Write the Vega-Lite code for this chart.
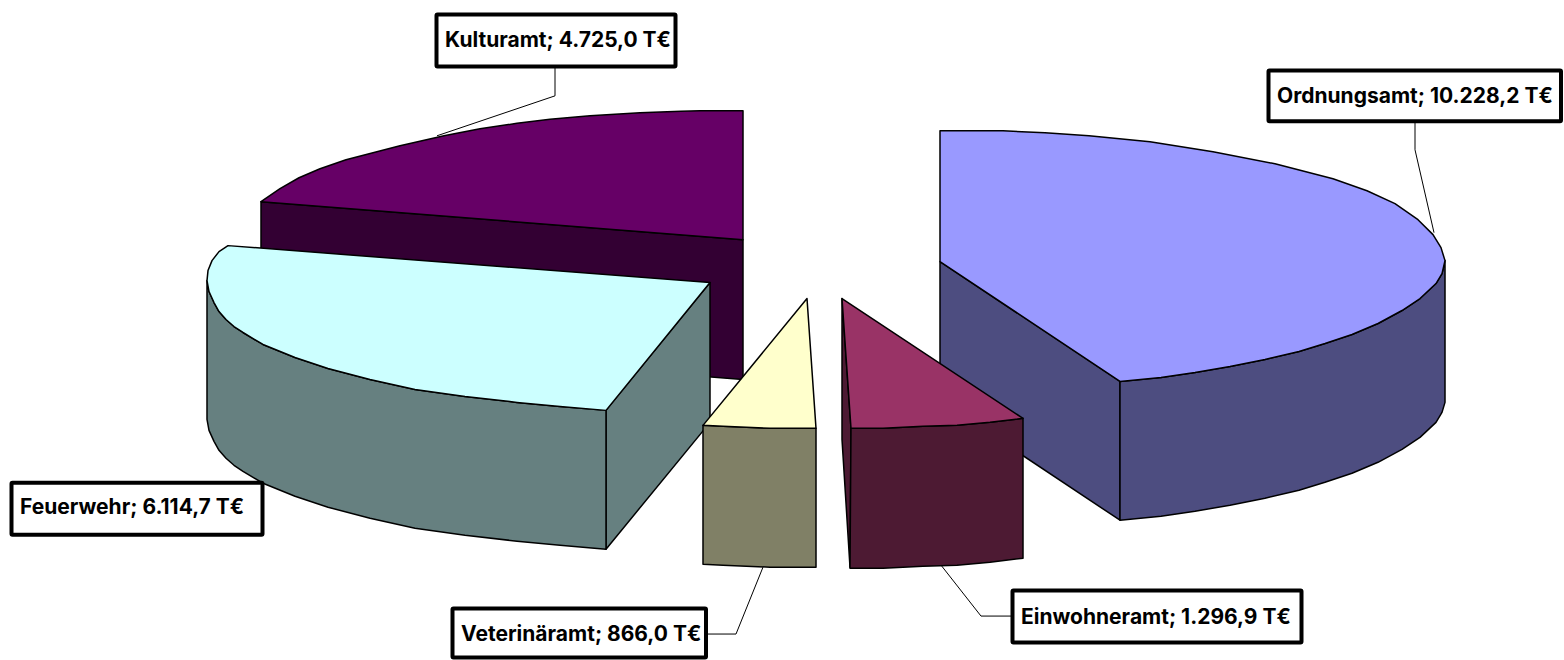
{
"$schema":"https://vega.github.io/schema/vega-lite/v6.json",
"width":1564,"height":660,"padding":0,"autosize":{"type":"fit","contains":"padding"},"background":"white",
"view":{"stroke":null},
"datasets":{
"faces":[
{"f":"a1","n":1,"x":261,"y":202},{"f":"a1","n":2,"x":743,"y":240},{"f":"a1","n":3,"x":743,"y":380},{"f":"a1","n":4,"x":261,"y":342},
{"f":"a2","n":1,"x":743,"y":111},{"f":"a2","n":2,"x":700,"y":111},{"f":"a2","n":3,"x":681,"y":111.5},{"f":"a2","n":4,"x":640,"y":113},{"f":"a2","n":5,"x":590,"y":116},{"f":"a2","n":6,"x":550,"y":119.5},{"f":"a2","n":7,"x":517,"y":123.5},{"f":"a2","n":8,"x":480,"y":129},{"f":"a2","n":9,"x":444,"y":136},{"f":"a2","n":10,"x":400,"y":146},{"f":"a2","n":11,"x":346,"y":160},{"f":"a2","n":12,"x":320,"y":169},{"f":"a2","n":13,"x":299,"y":178},{"f":"a2","n":14,"x":280,"y":189},{"f":"a2","n":15,"x":261,"y":202},{"f":"a2","n":16,"x":743,"y":240},
{"f":"b1","n":1,"x":606,"y":411},{"f":"b1","n":2,"x":710,"y":283},{"f":"b1","n":3,"x":710,"y":423},{"f":"b1","n":4,"x":606,"y":550},
{"f":"b2","n":1,"x":207,"y":281},{"f":"b2","n":2,"x":209,"y":292},{"f":"b2","n":3,"x":214,"y":303},{"f":"b2","n":3.5,"x":219,"y":312},{"f":"b2","n":4,"x":226,"y":320},{"f":"b2","n":4.5,"x":234,"y":327},{"f":"b2","n":5,"x":243,"y":333},{"f":"b2","n":6,"x":263,"y":345},{"f":"b2","n":7,"x":295,"y":358},{"f":"b2","n":8,"x":328,"y":369},{"f":"b2","n":9,"x":370,"y":380},{"f":"b2","n":10,"x":415,"y":390},{"f":"b2","n":11,"x":465,"y":397},{"f":"b2","n":12,"x":517,"y":403},{"f":"b2","n":13,"x":560,"y":407},{"f":"b2","n":14,"x":606,"y":411},{"f":"b2","n":15,"x":606,"y":550},{"f":"b2","n":16,"x":560,"y":546},{"f":"b2","n":17,"x":517,"y":542},{"f":"b2","n":18,"x":465,"y":536},{"f":"b2","n":19,"x":415,"y":529},{"f":"b2","n":20,"x":370,"y":519},{"f":"b2","n":21,"x":328,"y":508},{"f":"b2","n":22,"x":295,"y":497},{"f":"b2","n":23,"x":263,"y":484},{"f":"b2","n":24,"x":243,"y":472},{"f":"b2","n":24.5,"x":234,"y":466},{"f":"b2","n":25,"x":226,"y":459},{"f":"b2","n":25.5,"x":219,"y":451},{"f":"b2","n":26,"x":214,"y":442},{"f":"b2","n":27,"x":209,"y":431},{"f":"b2","n":28,"x":207,"y":420},
{"f":"b3","n":1,"x":710,"y":283},{"f":"b3","n":2,"x":228,"y":246},{"f":"b3","n":3,"x":219,"y":252},{"f":"b3","n":4,"x":212,"y":261},{"f":"b3","n":5,"x":208,"y":271},{"f":"b3","n":6,"x":207,"y":281},{"f":"b3","n":7,"x":209,"y":292},{"f":"b3","n":8,"x":214,"y":303},{"f":"b3","n":8.5,"x":219,"y":312},{"f":"b3","n":9,"x":226,"y":320},{"f":"b3","n":9.5,"x":234,"y":327},{"f":"b3","n":10,"x":243,"y":333},{"f":"b3","n":11,"x":263,"y":345},{"f":"b3","n":12,"x":295,"y":358},{"f":"b3","n":13,"x":328,"y":369},{"f":"b3","n":14,"x":370,"y":380},{"f":"b3","n":15,"x":415,"y":390},{"f":"b3","n":16,"x":465,"y":397},{"f":"b3","n":17,"x":517,"y":403},{"f":"b3","n":18,"x":560,"y":407},{"f":"b3","n":19,"x":606,"y":411},
{"f":"c1","n":1,"x":703,"y":426},{"f":"c1","n":2,"x":723,"y":427},{"f":"c1","n":3,"x":770,"y":429},{"f":"c1","n":4,"x":816,"y":429},{"f":"c1","n":5,"x":816,"y":568},{"f":"c1","n":6,"x":770,"y":568},{"f":"c1","n":7,"x":723,"y":566},{"f":"c1","n":8,"x":703,"y":565},
{"f":"c2","n":1,"x":807,"y":299},{"f":"c2","n":2,"x":703,"y":426},{"f":"c2","n":3,"x":723,"y":427},{"f":"c2","n":4,"x":770,"y":429},{"f":"c2","n":5,"x":816,"y":429},
{"f":"d1","n":1,"x":940,"y":262},{"f":"d1","n":2,"x":1120,"y":382},{"f":"d1","n":3,"x":1120,"y":521},{"f":"d1","n":4,"x":940,"y":401},
{"f":"d2","n":1,"x":1120,"y":382},{"f":"d2","n":2,"x":1161,"y":378},{"f":"d2","n":3,"x":1195,"y":373},{"f":"d2","n":4,"x":1230,"y":367},{"f":"d2","n":5,"x":1265,"y":360},{"f":"d2","n":6,"x":1299,"y":352},{"f":"d2","n":7,"x":1325,"y":344},{"f":"d2","n":8,"x":1352,"y":335},{"f":"d2","n":9,"x":1378,"y":324},{"f":"d2","n":10,"x":1402,"y":311},{"f":"d2","n":11,"x":1420,"y":299},{"f":"d2","n":12,"x":1436,"y":284},{"f":"d2","n":13,"x":1442,"y":274},{"f":"d2","n":14,"x":1445,"y":261},{"f":"d2","n":15,"x":1445,"y":403},{"f":"d2","n":16,"x":1442,"y":413},{"f":"d2","n":17,"x":1436,"y":423},{"f":"d2","n":18,"x":1420,"y":438},{"f":"d2","n":19,"x":1402,"y":450},{"f":"d2","n":20,"x":1378,"y":463},{"f":"d2","n":21,"x":1352,"y":474},{"f":"d2","n":22,"x":1325,"y":483},{"f":"d2","n":23,"x":1299,"y":491},{"f":"d2","n":24,"x":1265,"y":499},{"f":"d2","n":25,"x":1230,"y":506},{"f":"d2","n":26,"x":1195,"y":512},{"f":"d2","n":27,"x":1161,"y":517},{"f":"d2","n":28,"x":1120,"y":521},
{"f":"d3","n":1,"x":940,"y":131},{"f":"d3","n":2,"x":970,"y":131},{"f":"d3","n":3,"x":1003,"y":131},{"f":"d3","n":4,"x":1045,"y":133},{"f":"d3","n":5,"x":1089,"y":136},{"f":"d3","n":6,"x":1150,"y":142},{"f":"d3","n":7,"x":1213,"y":152},{"f":"d3","n":8,"x":1275,"y":164},{"f":"d3","n":9,"x":1333,"y":179},{"f":"d3","n":10,"x":1367,"y":191},{"f":"d3","n":11,"x":1395,"y":204},{"f":"d3","n":12,"x":1418,"y":220},{"f":"d3","n":13,"x":1433,"y":235},{"f":"d3","n":14,"x":1441,"y":248},{"f":"d3","n":15,"x":1445,"y":261},{"f":"d3","n":16,"x":1442,"y":274},{"f":"d3","n":17,"x":1436,"y":284},{"f":"d3","n":18,"x":1420,"y":299},{"f":"d3","n":19,"x":1402,"y":311},{"f":"d3","n":20,"x":1378,"y":324},{"f":"d3","n":21,"x":1352,"y":335},{"f":"d3","n":22,"x":1325,"y":344},{"f":"d3","n":23,"x":1299,"y":352},{"f":"d3","n":24,"x":1265,"y":360},{"f":"d3","n":25,"x":1230,"y":367},{"f":"d3","n":26,"x":1195,"y":373},{"f":"d3","n":27,"x":1161,"y":378},{"f":"d3","n":28,"x":1120,"y":382},{"f":"d3","n":29,"x":940,"y":262},
{"f":"e1","n":1,"x":842,"y":299},{"f":"e1","n":2,"x":851,"y":429},{"f":"e1","n":3,"x":850,"y":568},{"f":"e1","n":4,"x":842,"y":440},
{"f":"e2","n":1,"x":851,"y":429},{"f":"e2","n":2,"x":883,"y":429},{"f":"e2","n":3,"x":923,"y":427},{"f":"e2","n":4,"x":957,"y":426},{"f":"e2","n":5,"x":990,"y":423},{"f":"e2","n":6,"x":1023,"y":419},{"f":"e2","n":7,"x":1023,"y":559},{"f":"e2","n":8,"x":990,"y":563},{"f":"e2","n":9,"x":957,"y":566},{"f":"e2","n":10,"x":923,"y":567},{"f":"e2","n":11,"x":883,"y":569},{"f":"e2","n":12,"x":850,"y":569},
{"f":"e3","n":1,"x":842,"y":299},{"f":"e3","n":2,"x":1023,"y":419},{"f":"e3","n":3,"x":990,"y":423},{"f":"e3","n":4,"x":957,"y":426},{"f":"e3","n":5,"x":923,"y":427},{"f":"e3","n":6,"x":883,"y":429},{"f":"e3","n":7,"x":851,"y":429}
],
"leaders":[
{"d":"Kulturamt","n":1,"x":555,"y":67},{"d":"Kulturamt","n":2,"x":555,"y":96},{"d":"Kulturamt","n":3,"x":437,"y":136},
{"d":"Ordnungsamt","n":1,"x":1415,"y":122},{"d":"Ordnungsamt","n":2,"x":1415,"y":150},{"d":"Ordnungsamt","n":3,"x":1434,"y":233},
{"d":"Veterinäramt","n":1,"x":707,"y":635},{"d":"Veterinäramt","n":2,"x":736,"y":635},{"d":"Veterinäramt","n":3,"x":763,"y":568},
{"d":"Einwohneramt","n":1,"x":1011,"y":617},{"d":"Einwohneramt","n":2,"x":981,"y":617},{"d":"Einwohneramt","n":3,"x":941,"y":566}
],
"labels":[
{"label":"Kulturamt; 4.725,0 T€","x":436.5,"x2":675.5,"y":14.5,"y2":66.5,"tx":445,"ty":47.5},
{"label":"Ordnungsamt; 10.228,2 T€","x":1268.5,"x2":1561,"y":70.5,"y2":121.5,"tx":1277,"ty":103},
{"label":"Veterinäramt; 866,0 T€","x":452.5,"x2":706,"y":609.5,"y2":658.5,"tx":461,"ty":642},
{"label":"Feuerwehr; 6.114,7 T€","x":11.5,"x2":262.5,"y":483.5,"y2":535.5,"tx":20,"ty":515},
{"label":"Einwohneramt; 1.296,9 T€","x":1012.5,"x2":1301.5,"y":591.5,"y2":643.5,"tx":1021,"ty":625}
]
},
"layer":[
{"data":{"name":"faces"},
 "mark":{"type":"line","interpolate":"linear-closed","stroke":"black","strokeWidth":1.5,"strokeJoin":"round"},
 "encoding":{
  "x":{"field":"x","type":"quantitative","scale":{"domain":[0,1564],"nice":false,"zero":false},"axis":null},
  "y":{"field":"y","type":"quantitative","scale":{"domain":[660,0],"nice":false,"zero":false},"axis":null},
  "order":{"field":"n","type":"quantitative"},
  "fill":{"field":"f","type":"nominal","legend":null,"sort":null,
   "scale":{"domain":["a1","a2","b1","b2","b3","c1","c2","d1","d2","d3","e1","e2","e3"],
   "range":["#330033","#660066","#668080","#668080","#CCFFFF","#808066","#FFFFCC","#4D4D80","#4D4D80","#9999FF","#4D1A33","#4D1A33","#993366"]}}
 }},
{"data":{"name":"leaders"},
 "mark":{"type":"line","stroke":"black","strokeWidth":1},
 "encoding":{
  "x":{"field":"x","type":"quantitative","scale":{"domain":[0,1564],"nice":false,"zero":false},"axis":null},
  "y":{"field":"y","type":"quantitative","scale":{"domain":[660,0],"nice":false,"zero":false},"axis":null},
  "order":{"field":"n","type":"quantitative"},
  "detail":{"field":"d","type":"nominal"}
 }},
{"data":{"name":"labels"},
 "mark":{"type":"rect","fill":"white","stroke":"black","strokeWidth":4,"cornerRadius":1},
 "encoding":{
  "x":{"field":"x","type":"quantitative","scale":{"domain":[0,1564],"nice":false,"zero":false},"axis":null},
  "x2":{"field":"x2"},
  "y":{"field":"y","type":"quantitative","scale":{"domain":[660,0],"nice":false,"zero":false},"axis":null},
  "y2":{"field":"y2"}
 }},
{"data":{"name":"labels"},
 "mark":{"type":"text","align":"left","baseline":"alphabetic","font":"Inter","fontWeight":"bold","fontSize":21,"color":"black"},
 "encoding":{
  "x":{"field":"tx","type":"quantitative","scale":{"domain":[0,1564],"nice":false,"zero":false},"axis":null},
  "y":{"field":"ty","type":"quantitative","scale":{"domain":[660,0],"nice":false,"zero":false},"axis":null},
  "text":{"field":"label","type":"nominal"}
 }}
]
}
